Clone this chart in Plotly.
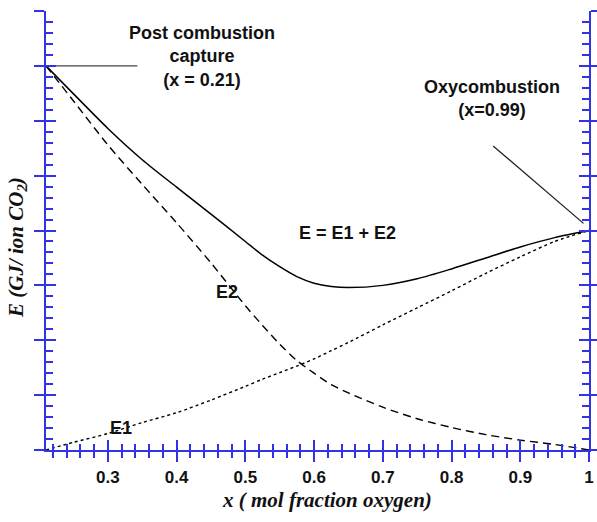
import plotly.graph_objects as go

# ---- data ----
x_frac = [0.21, 0.25, 0.30, 0.35, 0.40, 0.45, 0.50, 0.525, 0.55, 0.575, 0.60, 0.625,
          0.65, 0.70, 0.75, 0.80, 0.85, 0.90, 0.95, 1.00]
E_total = [7.00, 6.49, 5.86, 5.29, 4.79, 4.30, 3.80, 3.55, 3.34, 3.16, 3.04, 2.98,
           2.96, 3.00, 3.12, 3.30, 3.50, 3.70, 3.87, 4.00]
E2_vals = [7.00, 6.36, 5.56, 4.84, 4.14, 3.41, 2.63, 2.27, 1.93, 1.63, 1.40, 1.19,
           1.04, 0.78, 0.57, 0.41, 0.28, 0.18, 0.10, 0.00]
E1_vals = [0.00, 0.14, 0.30, 0.50, 0.68, 0.91, 1.16, 1.29, 1.41, 1.53, 1.66, 1.81,
           1.96, 2.28, 2.59, 2.90, 3.22, 3.52, 3.80, 4.00]

post_line_x = [0.21, 0.343]
post_line_y = [7.0, 7.0]
oxy_line_x = [0.8605, 0.992]
oxy_line_y = [5.54, 4.13]

x_range = [0.21, 1.0]
y_range = [0, 8]

AXIS_BLUE = "#3232e6"
LABEL_FONT = dict(family="Liberation Sans, Arial", size=17, color="#111111", weight="bold")
TITLE_FONT = dict(family="Liberation Serif, Times New Roman", size=21, color="#111111",
                  weight="bold", style="italic")

fig = go.Figure()

fig.add_trace(go.Scatter(x=x_frac, y=E_total, mode="lines", name="E",
                         line=dict(color="black", width=1.5, shape="spline", smoothing=0.8),
                         showlegend=False, hoverinfo="skip"))
fig.add_trace(go.Scatter(x=x_frac, y=E2_vals, mode="lines", name="E2",
                         line=dict(color="black", width=1.4, dash="8px,5px",
                                   shape="spline", smoothing=0.8),
                         showlegend=False, hoverinfo="skip"))
fig.add_trace(go.Scatter(x=x_frac, y=E1_vals, mode="lines", name="E1",
                         line=dict(color="black", width=1.4, dash="3px,3px",
                                   shape="spline", smoothing=0.8),
                         showlegend=False, hoverinfo="skip"))
fig.add_trace(go.Scatter(x=post_line_x, y=post_line_y, mode="lines",
                         line=dict(color="#444444", width=1.3),
                         showlegend=False, hoverinfo="skip"))
fig.add_trace(go.Scatter(x=oxy_line_x, y=oxy_line_y, mode="lines",
                         line=dict(color="#222222", width=1.3),
                         showlegend=False, hoverinfo="skip"))
# helper trace on overlay axes (carries inward ticks)
fig.add_trace(go.Scatter(x=[x_range[0]], y=[y_range[0]], mode="markers",
                         marker=dict(size=1, opacity=0), xaxis="x2", yaxis="y2",
                         showlegend=False, hoverinfo="skip"))

common_x = dict(range=x_range, dtick=0.1, tick0=0, showgrid=False, zeroline=False,
                tickcolor=AXIS_BLUE, tickwidth=1.8, ticklen=10, automargin=False,
                linecolor=AXIS_BLUE, linewidth=2, showline=True)
common_y = dict(range=y_range, dtick=1, tick0=0, showgrid=False, zeroline=False,
                tickcolor=AXIS_BLUE, tickwidth=1.8, ticklen=10, automargin=False,
                linecolor=AXIS_BLUE, linewidth=2, showline=True)

fig.update_layout(
    width=597, height=522, autosize=False,
    margin=dict(l=46, r=8, t=11, b=72, autoexpand=False),
    paper_bgcolor="white", plot_bgcolor="white",
    xaxis=dict(**common_x, ticks="outside", showticklabels=True,
               tickfont=LABEL_FONT, ticklabelstandoff=1,
               minor=dict(dtick=0.02, tick0=0, ticks="outside", ticklen=6,
                          tickcolor=AXIS_BLUE, tickwidth=1.5)),
    xaxis2=dict(**common_x, ticks="inside", showticklabels=False,
                overlaying="x", matches="x", anchor="y2",
                minor=dict(dtick=0.02, tick0=0, ticks="inside", ticklen=6,
                           tickcolor=AXIS_BLUE, tickwidth=1.5)),
    yaxis=dict(**common_y, ticks="outside", showticklabels=False, mirror="ticks"),
    yaxis2=dict(**common_y, ticks="inside", showticklabels=False, mirror="ticks",
                overlaying="y", matches="y", anchor="x2",
                minor=dict(dtick=0.2, tick0=0, ticks="inside", ticklen=7,
                           tickcolor=AXIS_BLUE, tickwidth=1.5)),
)

ann_font = dict(family="Liberation Sans, Arial", size=18, color="#111111", weight="bold")
annotations = [
    dict(x=0.437, y=7.18, text="Post combustion<br>capture<br>(x = 0.21)"),
    dict(x=0.8595, y=6.41, text="Oxycombustion<br>(x=0.99)"),
    dict(x=0.649, y=3.95, text="E = E1 + E2"),
    dict(x=0.473, y=2.88, text="E2"),
    dict(x=0.319, y=0.40, text="E1"),
]
for a in annotations:
    fig.add_annotation(x=a["x"], y=a["y"], text=a["text"], showarrow=False,
                       xref="x", yref="y", font=ann_font, align="center")

# axis titles
fig.add_annotation(x=(327 - 46) / 543, y=-(500 - 450) / 439, xref="paper", yref="paper",
                   text="x ( mol fraction oxygen)", showarrow=False,
                   font=TITLE_FONT, xanchor="center", yanchor="middle")
fig.add_annotation(x=(17 - 46) / 543, y=(450 - 248) / 439, xref="paper", yref="paper",
                   text="E (GJ/ ion CO<sub>2</sub>)", showarrow=False, textangle=-90,
                   font=TITLE_FONT, xanchor="center", yanchor="middle")

fig.write_html(
    "out.html",
    config={"displayModeBar": False, "responsive": False},
    post_script=("document.documentElement.style.overflow='hidden';"
                 "document.body.style.overflow='hidden';"
                 "document.body.style.margin='0';"),
)
